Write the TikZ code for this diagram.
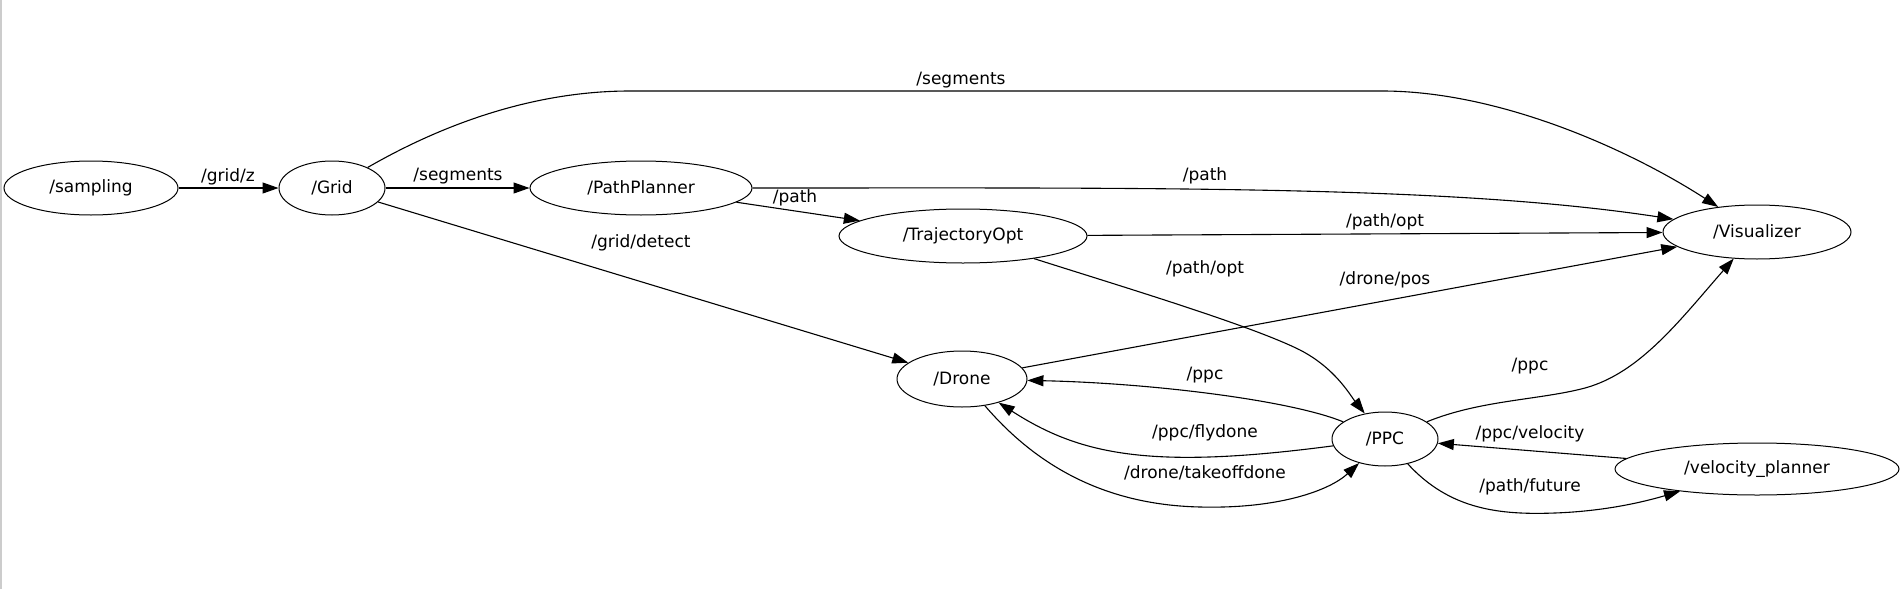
\documentclass[tikz,border=0pt]{standalone}
\usepackage{fontspec}
\setmainfont{DejaVu Sans}
\usetikzlibrary{shapes.geometric,arrows.meta}
\begin{document}
\begin{tikzpicture}[x=1pt,y=-1pt,
  nd/.style={ellipse,draw,line width=1pt,inner sep=0pt,font=\fontsize{17}{20}\selectfont},
  lbl/.style={inner sep=0pt,font=\fontsize{17}{20}\selectfont},
  edge/.style={line width=1.1pt,-{Triangle[length=16pt,width=11pt]}}]
\useasboundingbox (0,0) rectangle (1901,589);
\draw[gray!40,line width=1.5pt] (1,0) -- (1,589);
% nodes
\node[nd,minimum width=174pt,minimum height=54pt] (sampling) at (91,188) {/sampling};
\node[nd,minimum width=106pt,minimum height=54pt] (Grid) at (332,188) {/Grid};
\node[nd,minimum width=222pt,minimum height=54pt] (PathPlanner) at (641,188) {/PathPlanner};
\node[nd,minimum width=248pt,minimum height=54pt] (TrajectoryOpt) at (963,236) {/TrajectoryOpt};
\node[nd,minimum width=188pt,minimum height=54pt] (Visualizer) at (1757,232) {/Visualizer};
\node[nd,minimum width=130pt,minimum height=56pt] (Drone) at (962,379) {/Drone};
\node[nd,minimum width=106pt,minimum height=54pt] (PPC) at (1385,439) {/PPC};
\node[nd,minimum width=284pt,minimum height=52pt] (velocity) at (1757,469) {/velocity\_planner};
% edges
\draw[edge] (sampling) -- (Grid);
\draw[edge] (Grid) -- (PathPlanner);
\draw[edge] (Grid) .. controls (450,120) and (540,91) .. (630,91) -- (1382,91) .. controls (1500,91) and (1630,150) .. (Visualizer);
\draw[edge] (PathPlanner) .. controls (1150,188) and (1450,185) .. (Visualizer);
\draw[edge] (PathPlanner) -- (TrajectoryOpt);
\draw[edge] (TrajectoryOpt) -- (Visualizer);
\draw[edge] (TrajectoryOpt) .. controls (1120,286) and (1250,325) .. (1300,350) .. controls (1335,368) and (1350,395) .. (PPC);
\draw[edge] (Grid) -- (Drone);
\draw[edge] (Drone) -- (Visualizer);
\draw[edge] (PPC) .. controls (1290,400) and (1150,383) .. (Drone);
\draw[edge] (PPC) .. controls (1150,470) and (1080,455) .. (Drone);
\draw[edge] (Drone) .. controls (1040,470) and (1110,505) .. (1200,507) .. controls (1280,509) and (1330,490) .. (PPC);
\draw[edge] (PPC) .. controls (1480,400) and (1540,400) .. (1585,388) .. controls (1640,373) and (1680,320) .. (Visualizer);
\draw[edge] (velocity) -- (PPC);
\draw[edge] (PPC) .. controls (1450,510) and (1500,515) .. (1555,513) .. controls (1610,511) and (1650,500) .. (velocity);
% labels
\node[lbl] (l1) at (228,177) {/grid/z};
\node[lbl] (l2) at (458,176) {/segments};
\node[lbl] (l3) at (961,80) {/segments};
\node[lbl] (l4) at (1205,176) {/path};
\node[lbl] (l5) at (795,198) {/path};
\node[lbl] (l6) at (641,243) {/grid/detect};
\node[lbl] (l7) at (1385,222) {/path/opt};
\node[lbl] (l8) at (1205,269) {/path/opt};
\node[lbl] (l9) at (1385,280) {/drone/pos};
\node[lbl] (l10) at (1205,375) {/ppc};
\node[lbl] (l11) at (1205,433) {/ppc/flydone};
\node[lbl] (l12) at (1205,473) {/drone/takeoffdone};
\node[lbl] (l13) at (1530,366) {/ppc};
\node[lbl] (l14) at (1530,434) {/ppc/velocity};
\node[lbl] (l15) at (1530,487) {/path/future};
\end{tikzpicture}
\end{document}
